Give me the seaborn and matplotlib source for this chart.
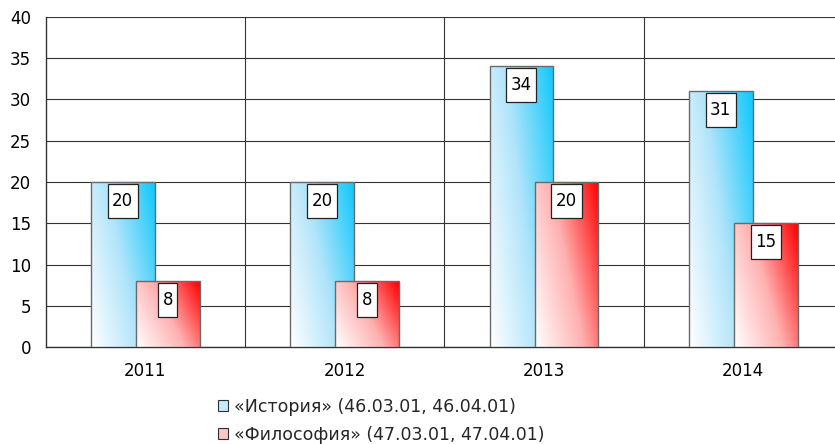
import numpy as np
import pandas as pd
import matplotlib
matplotlib.use("Agg")
import matplotlib.pyplot as plt
import seaborn as sns
from matplotlib.colors import LinearSegmentedColormap
from matplotlib.patches import Rectangle
from matplotlib.path import Path

years = ["2011", "2012", "2013", "2014"]
history = [20, 20, 34, 31]
philosophy = [8, 8, 20, 15]
series_names = ["«История» (46.03.01, 46.04.01)", "«Философия» (47.03.01, 47.04.01)"]
yticks = [0, 5, 10, 15, 20, 25, 30, 35, 40]

sns.set_theme(style="white")
plt.rcParams['font.family'] = ['DejaVu Sans']

df = pd.DataFrame({
    "year": years * 2,
    "value": history + philosophy,
    "series": [series_names[0]] * 4 + [series_names[1]] * 4,
})

fig = plt.figure(figsize=(8.35, 4.44), dpi=100)
ax = fig.add_axes([45.5 / 835, 1 - 347 / 444, (843 - 45.5) / 835, 330 / 444])

sns.barplot(data=df, x="year", y="value", hue="series", ax=ax,
            palette=["#22c8f8", "#ff0000"], legend=False, dodge=True)

cmaps = [LinearSegmentedColormap.from_list("b", ["#ffffff", "#b0e4fa", "#10c8fc"]),
         LinearSegmentedColormap.from_list("r", ["#ffffff", "#ffb0b0", "#ff0000"])]

def label_box(x0, y0, width, height, mutation_size):
    px = 0.27 * mutation_size
    py = 0.48 * mutation_size
    x0, y0 = x0 - px, y0 - py
    x1, y1 = x0 + width + 2 * px, y0 + height + 2 * py
    return Path([(x0, y0), (x1, y0), (x1, y1), (x0, y1), (x0, y0)], closed=True)

bw = 0.32
offs = [-0.113, 0.113]
gx, gy = np.meshgrid(np.linspace(0, 1, 64), np.linspace(0, 1, 64))
grad = 0.65 * gx + 0.35 * gy

for s, cont in enumerate(ax.containers):
    for i, p in enumerate(cont.patches):
        p.set_x(i + offs[s] - bw / 2)
        p.set_width(bw)
        p.set_facecolor("none")
        p.set_edgecolor("#6a6a6a")
        p.set_linewidth(1.0)
        p.set_zorder(3 + s * 2 + 0.5)
        x0, w, h = p.get_x(), p.get_width(), p.get_height()
        bg = Rectangle((x0, 0), w, h, facecolor="white", edgecolor="none", zorder=3 + s * 2 - 0.2)
        ax.add_patch(bg)
        im = ax.imshow(grad, cmap=cmaps[s], origin="lower", extent=[x0, x0 + w, 0, h],
                       aspect="auto", zorder=3 + s * 2, interpolation="bilinear")
        im.set_clip_path(bg)
        ax.annotate(str(int(h)), (i + offs[s], h), xytext=(0, -7.0), textcoords="offset points",
                    ha="center", va="top", fontsize=12, color="black", zorder=10,
                    bbox=dict(boxstyle=label_box, fc="white", ec="#222222", lw=0.9))

ax.set_ylim(0, 40)
ax.set_xlim(-0.5, 3.5)

ax.set_yticks(yticks)
ax.set_yticklabels([str(t) for t in yticks])
ax.set_xticks(range(4))
ax.set_xticklabels(years)
ax.set_xticks([-0.5, 0.5, 1.5, 2.5, 3.5], minor=True)
ax.tick_params(axis="both", labelsize=12, colors="black")
ax.tick_params(axis="y", direction="out", length=4.5, width=0.8, color="#333333", pad=6)
ax.tick_params(axis="x", which="major", length=0, pad=11)
ax.tick_params(axis="x", which="minor", direction="out", length=4, width=0.8, color="#333333")
for t in yticks:
    ax.axhline(t, color="#333333", lw=0.8, zorder=1)
for b in [0.5, 1.5, 2.5]:
    ax.axvline(b, color="#333333", lw=0.8, zorder=1)

for side in ["top", "right"]:
    ax.spines[side].set_visible(False)
ax.spines["left"].set_color("#333333")
ax.spines["bottom"].set_color("#333333")
ax.spines["left"].set_linewidth(1.0)
ax.spines["bottom"].set_linewidth(1.0)
ax.set_xlabel("")
ax.set_ylabel("")

handles = [Rectangle((0, 0), 1, 1, fc="#c4ebfb", ec="#303030", lw=0.8),
           Rectangle((0, 0), 1, 1, fc="#ffc4c4", ec="#303030", lw=0.8)]
fig.legend(handles, series_names, loc="upper left", bbox_to_anchor=(218 / 835, 1 - 398 / 444),
           ncol=1, frameon=False, fontsize=12.5, handlelength=0.6, handleheight=0.6,
           handletextpad=0.35, labelspacing=0.55, borderpad=0, borderaxespad=0)

fig.savefig("out.png", dpi=100)
